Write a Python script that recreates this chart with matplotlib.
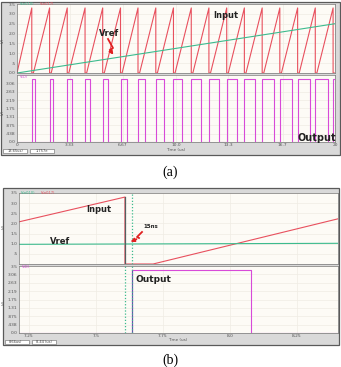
import matplotlib
matplotlib.use("Agg")
import matplotlib.pyplot as plt
from matplotlib.patches import Rectangle, FancyArrowPatch
from matplotlib.lines import Line2D

W, H = 341, 367

# ---- panel (a): 0..20 us sweep ----
a_peaks = [0.93, 2.05, 3.16, 4.28, 5.39, 6.51, 7.61, 8.73, 9.84, 10.96,
           12.07, 13.19, 14.30, 15.42, 16.53, 17.65, 18.76, 19.88]
a_ramp_starts = [0.0, 1.03, 2.15, 3.26, 4.38, 5.49, 6.61, 7.71, 8.83, 9.94,
                 11.06, 12.17, 13.29, 14.40, 15.52, 16.63, 17.75, 18.86]
a_peak_v = 3.3
a_vref_t = [0.0, 20.0]
a_vref_v = [0.0, 2.5]
a_pulse_w = [0.18, 0.22, 0.27, 0.32, 0.36, 0.40, 0.44, 0.49, 0.54, 0.59,
             0.62, 0.66, 0.70, 0.72, 0.76, 0.80, 0.82, 0.84]
a_out_v = 3.3
a_xticks = [0, 3.33, 6.67, 10.0, 13.3, 16.7, 20]
a_xlabels = ["0", "3.33", "6.67", "10.0", "13.3", "16.7", "20"]

# ---- panel (b): zoom around 7.6 us ----
b_in_t = [7.21, 7.608, 7.608, 7.713, 8.41]
b_in_v = [2.07, 3.30, 0.0, 0.0, 2.25]
b_vref_t = [7.21, 8.41]
b_vref_v = [0.97, 1.02]
b_out_t = [7.21, 7.634, 7.634, 8.078, 8.078, 8.41]
b_out_v = [0.0, 0.0, 3.3, 3.3, 0.0, 0.0]
b_cursors = [7.608, 7.634]
b_xticks = [7.25, 7.5, 7.75, 8.0, 8.25]
b_xlabels = ["7.25", "7.5", "7.75", "8.0", "8.25"]

top_ticks = [0, 0.5, 1.0, 1.5, 2.0, 2.5, 3.0, 3.5]
top_labels = ["0.0", ".5", "1.0", "1.5", "2.0", "2.5", "3.0", "3.5"]
bot_ticks = [0, 0.4375, 0.875, 1.3125, 1.75, 2.1875, 2.625, 3.0625, 3.5]
bot_labels = ["0.0", ".438", ".875", "1.31", "1.75", "2.19", "2.63", "3.06", "3.5"]

RED = "#e8505e"
GREEN = "#3dbb8e"
MAG = "#d84ad8"
BG = "#fdfbf6"

fig = plt.figure(figsize=(W / 100, H / 100), dpi=100)


def rect(x0, y0, x1, y1):
    return [x0 / W, 1 - y1 / H, (x1 - x0) / W, (y1 - y0) / H]


def fx(px):
    return px / W


def fy(py):
    return 1 - py / H


def frame(x0, y0, x1, y1):
    fig.patches.append(Rectangle((fx(x0), fy(y1)), (x1 - x0) / W, (y1 - y0) / H,
                                 transform=fig.transFigure, facecolor="#d9d9d9",
                                 edgecolor="#5a5a5a", lw=0.9, zorder=-5))


def style(ax, xlim, xticks, yticks, ylabels, show_x, xlabels=None):
    ax.set_facecolor(BG)
    ax.set_xlim(*xlim)
    ax.set_ylim(0, 3.5)
    ax.set_xticks(xticks)
    ax.set_yticks(yticks)
    ax.set_yticklabels(ylabels)
    if show_x:
        ax.set_xticklabels(xlabels)
    else:
        ax.set_xticklabels([])
    ax.tick_params(length=0, pad=1, labelsize=3.2, colors="#555555")
    ax.grid(True, color="#f0ece4", lw=0.5)
    for s in ax.spines.values():
        s.set_color("#777777")
        s.set_linewidth(0.5)


def status(x0, y0):
    for dx in (0, 27):
        fig.patches.append(Rectangle((fx(x0 + dx), fy(y0 + 4)), 24 / W, 4 / H,
                                     transform=fig.transFigure, facecolor="white",
                                     edgecolor="#666666", lw=0.4, zorder=-4))


def zigzag(pts):
    xs = [fx(p[0]) for p in pts]
    ys = [fy(p[1]) for p in pts]
    fig.add_artist(Line2D(xs[:-1], ys[:-1], transform=fig.transFigure,
                          color="#e02020", lw=1.3))
    fig.add_artist(FancyArrowPatch((xs[-2], ys[-2]), (xs[-1], ys[-1]),
                                   transform=fig.transFigure, arrowstyle="-|>",
                                   mutation_scale=5, color="#e02020", lw=1.3))


def small(x, y, s, color="#555555", size=3, **kw):
    fig.text(fx(x), fy(y), s, fontsize=size, color=color, va="center", **kw)


# ================= (a) =================
frame(1, 2, 340, 155)
ax1 = fig.add_axes(rect(17, 4, 335, 73))
ax2 = fig.add_axes(rect(17, 75, 335, 142))

in_t, in_v = [], []
for s, p in zip(a_ramp_starts, a_peaks):
    in_t += [s, p, p]
    in_v += [0.0, a_peak_v, 0.0]
in_t.append(20.0)
in_v.append(0.0)
ax1.plot(in_t, in_v, color=RED, lw=0.8)
ax1.plot(a_vref_t, a_vref_v, color=GREEN, lw=0.8)
style(ax1, (0, 20), a_xticks, top_ticks, top_labels, False)

out_t, out_v = [0.0], [0.0]
for p, w in zip(a_peaks, a_pulse_w):
    out_t += [p, p, p + w, p + w]
    out_v += [0.0, a_out_v, a_out_v, 0.0]
out_t.append(20.0)
out_v.append(0.0)
ax2.plot(out_t, out_v, color=MAG, lw=0.8)
style(ax2, (0, 20), a_xticks, bot_ticks[:-1], bot_labels[:-1], True, a_xlabels)

small(176, 150, "Time (us)", ha="center")
small(3, 40, "(V)", size=2.6, rotation=90, ha="center")
small(3, 112, "(V)", size=2.6, rotation=90, ha="center")
small(20, 4, "V(n010)", GREEN, 2.6)
small(40, 4, "V(n017)", RED, 2.6)
small(20, 77, "V(D)", MAG, 2.6)
status(3, 149)
small(8, 151, "13.65us)", "#444444", 2.6)
small(36, 151, "1.757e", "#444444", 2.6)

fig.text(fx(213), fy(16), "Input", fontsize=6, fontweight="bold", color="#222222", va="center")
fig.text(fx(99), fy(33), "Vref", fontsize=6, fontweight="bold", color="#222222", va="center")
fig.text(fx(297), fy(138), "Output", fontsize=7, fontweight="bold", color="#222222", va="center")
zigzag([(108, 39), (113, 48), (110, 50), (115, 57)])

fig.text(0.5, fy(172), "(a)", fontsize=10, family="Liberation Serif", ha="center", va="center")

# ================= (b) =================
frame(3, 188, 339, 345)
ax3 = fig.add_axes(rect(19, 193, 338, 264))
ax4 = fig.add_axes(rect(19, 266, 338, 333))
blim = (7.2127, 8.403)

ax3.plot(b_in_t, b_in_v, color=RED, lw=0.8)
ax3.plot(b_vref_t, b_vref_v, color=GREEN, lw=0.8)
ax3.plot(b_in_t[1:3], b_in_v[1:3], color="#556060", lw=0.9)
ax3.axvline(b_cursors[1], color=GREEN, lw=0.9, ls=(0, (1, 1.5)))
style(ax3, blim, b_xticks, top_ticks[1:], top_labels[1:], False)

ax4.plot(b_out_t, b_out_v, color=MAG, lw=0.8)
ax4.plot(b_out_t[1:3], b_out_v[1:3], color="#6a4ab0", lw=0.8)
for c in b_cursors:
    ax4.axvline(c, color=GREEN, lw=0.9, ls=(0, (1, 1.5)))
style(ax4, blim, b_xticks, bot_ticks, bot_labels, True, b_xlabels)

small(178, 340, "Time (us)", ha="center")
small(4, 226, "(V)", size=2.6, rotation=90, ha="center")
small(4, 302, "(V)", size=2.6, rotation=90, ha="center")
small(21, 193, "V(n010)", GREEN, 2.6)
small(41, 193, "V(n017)", RED, 2.6)
small(22, 267, "V(D)", MAG, 2.6)
status(5, 340)
small(9, 342, "8.66us)", "#444444", 2.6)
small(36, 342, "8.44 (us)", "#444444", 2.6)

fig.text(fx(86), fy(210), "Input", fontsize=6, fontweight="bold", color="#222222", va="center")
fig.text(fx(50), fy(242), "Vref", fontsize=6, fontweight="bold", color="#222222", va="center")
fig.text(fx(143), fy(226), "15ns", fontsize=4, fontweight="bold", color="#222222", va="center")
fig.text(fx(135), fy(279), "Output", fontsize=6.5, fontweight="bold", color="#222222", va="center")
zigzag([(142, 232), (137, 237), (139, 238), (128, 243)])

fig.text(0.5, fy(360), "(b)", fontsize=10, family="Liberation Serif", ha="center", va="center")

fig.savefig("out.png", dpi=100)
